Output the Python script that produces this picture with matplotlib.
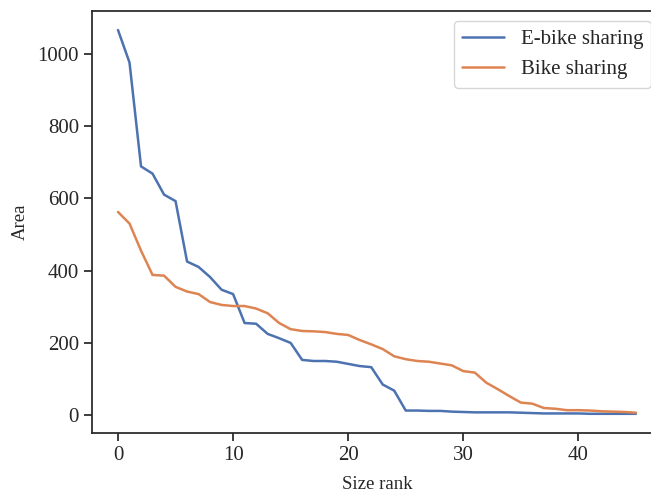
import matplotlib
matplotlib.use("Agg")
import matplotlib.pyplot as plt
import seaborn as sns

# size rank on x, area on y
rank = list(range(46))
ebike_area = [1065, 975, 688, 668, 610, 592, 425, 410, 382, 347,
              335, 255, 253, 225, 213, 200, 153, 150, 150, 148,
              142, 136, 133, 85, 68, 13, 13, 12, 12, 10,
              9, 8, 8, 8, 8, 7, 6, 5, 5, 5,
              5, 4, 4, 4, 4, 4]
bike_area = [562, 530, 455, 388, 386, 355, 342, 335, 313, 305,
             302, 302, 295, 282, 255, 238, 233, 232, 230, 225,
             222, 208, 196, 183, 163, 155, 150, 148, 143, 138,
             122, 118, 90, 72, 53, 35, 32, 20, 18, 14,
             14, 13, 11, 10, 9, 7]

sns.set_theme(style="ticks", palette="deep")
plt.rcParams['font.family'] = ['Liberation Serif', 'DejaVu Serif']

fig, ax = plt.subplots(figsize=(6.51, 4.94), dpi=100)
ax.plot(rank, ebike_area, label="E-bike sharing", linewidth=1.8)
ax.plot(rank, bike_area, label="Bike sharing", linewidth=1.8)

ax.set_xlabel("Size rank", fontsize=13.5, labelpad=8)
ax.set_ylabel("Area", fontsize=13.5, labelpad=6)
ax.tick_params(labelsize=15)
ax.legend(fontsize=15, loc="upper right")

# the original picture is cut off on the right, so the axes run past the edge
fig.subplots_adjust(left=0.1415, right=1.0166, top=0.978, bottom=0.1235)
fig.savefig("out.png", dpi=100)
